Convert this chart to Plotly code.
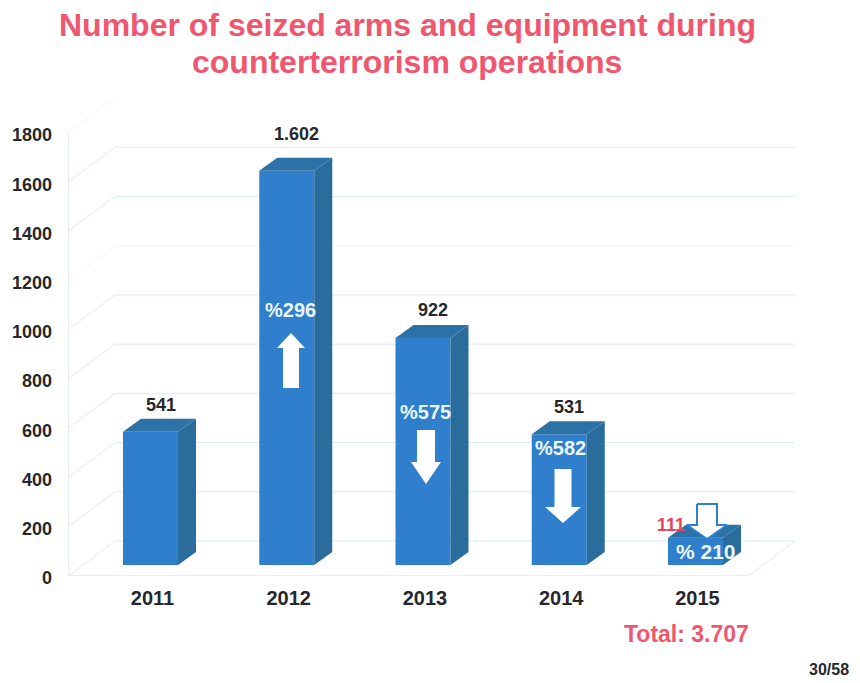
import plotly.graph_objects as go

years = ["2011", "2012", "2013", "2014", "2015"]
values = [541, 1602, 922, 531, 111]
value_labels = ["541", "1.602", "922", "531", "111"]
pct_labels = ["", "%296", "%575", "%582", "% 210"]
y_ticks = [0, 200, 400, 600, 800, 1000, 1200, 1400, 1600, 1800]
faint_ticks = [1200, 1800]
label_gaps = [14, 24, 15, 14]

W, H = 860, 683
PAGE = 8               # default page margin round the figure
L, R, T, B = 68, 795, 99, 576
PX_X = 136.25          # pixels per category
PX_Y = 443 / 1800      # pixels per unit
X0 = 150.5             # pixel centre of first category


def dx(px):
    return px / PX_X


def dy(px):
    return px / PX_Y


def xd(px):
    return (px - X0) / PX_X


def yd(px):
    return (B - px) / PX_Y


BAR_W = dx(55)
BASE = dy(11)
DEPTH_X, DEPTH_Y = dx(18), dy(13)
BACK_X, BACK_Y = dx(47), dy(35)
X_MIN, X_MAX = xd(L), xd(R)
Y_MAX = yd(T)
FRONT_END = xd(748)

FRONT = "#2F7FCC"
SIDE = "#2A6D9C"
TOP = "#2C72A6"
GRID = "#DCE8F8"
RED = "#F0566E"
INK = "#26282C"
FONT = "Liberation Sans"

fig = go.Figure()
xs = list(range(len(values)))

fig.add_trace(go.Bar(
    x=xs, y=values, base=BASE, width=BAR_W, marker=dict(color=FRONT, line=dict(width=0)),
    hoverinfo="skip", showlegend=False,
))

for i, v in zip(xs, values):
    xl, xr = i - BAR_W / 2, i + BAR_W / 2
    top = BASE + v
    fig.add_trace(go.Scatter(
        x=[xr, xr + DEPTH_X, xr + DEPTH_X, xr, xr],
        y=[BASE, BASE + DEPTH_Y, top + DEPTH_Y, top, BASE],
        fill="toself", fillcolor=SIDE, mode="none", hoverinfo="skip", showlegend=False))
    fig.add_trace(go.Scatter(
        x=[xl, xl + DEPTH_X, xr + DEPTH_X, xr, xl],
        y=[top, top + DEPTH_Y, top + DEPTH_Y, top, top],
        fill="toself", fillcolor=TOP, mode="none", hoverinfo="skip", showlegend=False))

shapes = []
for t in y_ticks:
    col = "#EEF3FB" if t in faint_ticks else GRID
    shapes.append(dict(type="line", layer="below", xref="x", yref="y",
                       x0=X_MIN, y0=t, x1=X_MIN + BACK_X, y1=t + BACK_Y,
                       line=dict(color=col, width=1)))
    shapes.append(dict(type="line", layer="below", xref="x", yref="y",
                       x0=X_MIN + BACK_X, y0=t + BACK_Y, x1=X_MAX, y1=t + BACK_Y,
                       line=dict(color=col, width=1)))
# floor front edge, right floor edge and value axis
shapes.append(dict(type="line", layer="below", xref="x", yref="y",
                   x0=X_MIN, y0=0, x1=FRONT_END, y1=0, line=dict(color=GRID, width=1.5)))
shapes.append(dict(type="line", layer="below", xref="x", yref="y",
                   x0=FRONT_END, y0=0, x1=X_MAX, y1=BACK_Y, line=dict(color=GRID, width=1)))
shapes.append(dict(type="line", layer="below", xref="x", yref="y",
                   x0=X_MIN, y0=0, x1=X_MIN, y1=1800, line=dict(color=GRID, width=1.5)))


def arrow(cx, half_shaft, half_head, tail, neck, tip, outline=None):
    """White block arrow; arguments are pixels on the page."""
    px = [cx - half_shaft, cx - half_shaft, cx - half_head, cx, cx + half_head,
          cx + half_shaft, cx + half_shaft, cx - half_shaft]
    py = [tail, neck, neck, tip, neck, neck, tail, tail]
    fig.add_trace(go.Scatter(
        x=[xd(p) for p in px], y=[yd(p) for p in py], fill="toself", fillcolor="white",
        mode="lines", line=dict(color=outline or "white", width=2 if outline else 0),
        hoverinfo="skip", showlegend=False))


arrow(291, 8, 14, 388, 348, 333)
arrow(426, 9, 15, 430, 462, 484)
arrow(563, 8.5, 18, 469, 507, 523)
arrow(707, 10, 20, 504, 525, 539, outline="#2F7FCC")

annotations = []


def text(px, py, s, size, color=INK):
    annotations.append(dict(
        xref="paper", yref="paper", x=(px - L) / (R - L), y=(B - py) / (B - T),
        text=s, showarrow=False, xanchor="center", yanchor="middle",
        font=dict(family=FONT, size=size, color=color, weight="bold")))


text(407, 25, "Number of seized arms and equipment during", 32, RED)
text(407, 62, "counterterrorism operations", 32, RED)

# value labels are placed from the data
for i, lab, v, gap in zip(xs, value_labels, values, label_gaps):
    if i == 4:
        continue
    annotations.append(dict(
        xref="x", yref="y", x=i + dx(10), y=BASE + v + DEPTH_Y + dy(gap),
        text=lab, showarrow=False, xanchor="center", yanchor="middle",
        font=dict(family=FONT, size=18, color=INK, weight="bold")))

text(671, 525, value_labels[4], 18, "#E8405A")
text(290, 310, pct_labels[1], 20, "#EAF6FF")
text(425, 412, pct_labels[2], 20, "#EAF6FF")
text(560, 448, pct_labels[3], 20, "#EAF6FF")
text(706, 551, pct_labels[4], 21, "#EAF6FF")
text(686, 634, "Total: 3.707", 23, RED)
text(829, 669, "30/58", 16, INK)

fig.update_layout(
    width=W - PAGE, height=H - PAGE, autosize=False,
    margin=dict(l=L - PAGE, r=W - R, t=T - PAGE, b=H - B, pad=0, autoexpand=False),
    paper_bgcolor="white", plot_bgcolor="rgba(0,0,0,0)",
    shapes=shapes, annotations=annotations, showlegend=False, barmode="overlay",
    xaxis=dict(range=[X_MIN, X_MAX], tickmode="array", tickvals=xs, ticktext=years,
               showgrid=False, zeroline=False, showline=False, ticks="", ticklen=0,
               ticklabelstandoff=8, ticklabelshift=2, automargin=False,
               tickfont=dict(family=FONT, size=20, color=INK, weight="bold")),
    yaxis=dict(range=[0, Y_MAX], tickmode="array", tickvals=y_ticks,
               ticktext=[str(t) for t in y_ticks],
               showgrid=False, zeroline=False, showline=False, ticks="",
               ticklabelstandoff=15, ticklabelshift=2, automargin=False,
               tickfont=dict(family=FONT, size=18, color=INK, weight="bold")),
)

fig.write_html("out.html", default_width=f"{W - PAGE}px", default_height=f"{H - PAGE}px")
